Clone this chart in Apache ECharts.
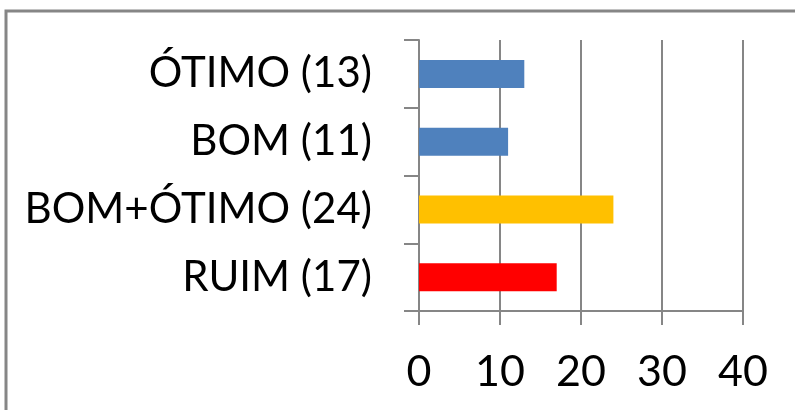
<!DOCTYPE html>
<html>
<head>
<meta charset="utf-8">
<script src="https://cdn.jsdelivr.net/npm/echarts@6/dist/echarts.min.js"></script>
<style>
  html, body { margin: 0; padding: 0; background: #fff; }
  #chart { width: 795px; height: 410px; }
</style>
</head>
<body>
<div id="chart"></div>
<script>
// categories top → bottom, values, bar colours
const categories = ['ÓTIMO (13)', 'BOM (11)', 'BOM+ÓTIMO (24)', 'RUIM (17)'];
const values = [13, 11, 24, 17];
const barColors = ['#4F81BD', '#4F81BD', '#FFC000', '#FF0000'];
const xTicks = [0, 10, 20, 30, 40];

const GRAY = '#868686';
const FONT = 'Lato, "Open Sans", sans-serif';

const chart = echarts.init(document.getElementById('chart'), null, { renderer: 'canvas' });

chart.setOption({
  backgroundColor: '#fff',
  animation: false,
  graphic: [{
    type: 'rect',
    shape: { x: 6, y: 11, width: 820, height: 430 },
    style: { fill: 'none', stroke: GRAY, lineWidth: 3 },
  }],
  grid: { left: 419, right: 52, top: 40, bottom: 99, containLabel: false },
  xAxis: {
    type: 'value',
    min: xTicks[0],
    max: xTicks[xTicks.length - 1],
    interval: 10,
    axisLine: { show: true, lineStyle: { color: GRAY, width: 2 } },
    axisTick: { show: true, length: 14, lineStyle: { color: GRAY, width: 2 } },
    splitLine: { show: true, lineStyle: { color: GRAY, width: 2 } },
    axisLabel: { color: '#000', fontSize: 43, fontFamily: FONT, margin: 40 },
  },
  yAxis: {
    type: 'category',
    inverse: true,
    data: categories,
    axisLine: { show: true, lineStyle: { color: GRAY, width: 2 } },
    axisTick: { show: true, length: 15, lineStyle: { color: GRAY, width: 2 } },
    axisLabel: { color: '#000', fontSize: 42, fontFamily: FONT, margin: 47 },
  },
  series: [{
    type: 'bar',
    barWidth: 28,
    data: values.map((v, i) => ({ value: v, itemStyle: { color: barColors[i] } })),
  }],
});
</script>
</body>
</html>
